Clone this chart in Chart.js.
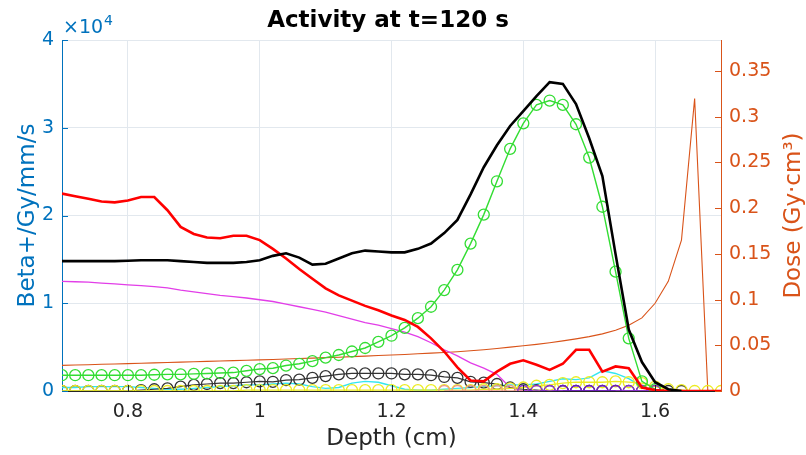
<!DOCTYPE html>
<html>
<head>
  <title>Activity at t=120 s</title>
  <script src="https://cdn.jsdelivr.net/npm/chart.js"></script>
  <style>
    body { margin: 0; background: #fff; }
    #wrap { width: 806px; height: 455px; }
  </style>
</head>
<body>
<div id="wrap"><canvas id="activity_chart" width="806" height="455"></canvas></div>
<script>
  var _ = null;

  // depth grid (cm)
  var depth = [0.70, 0.72, 0.74, 0.76, 0.78, 0.80, 0.82, 0.84, 0.86, 0.88,
               0.90, 0.92, 0.94, 0.96, 0.98, 1.00, 1.02, 1.04, 1.06, 1.08,
               1.10, 1.12, 1.14, 1.16, 1.18, 1.20, 1.22, 1.24, 1.26, 1.28,
               1.30, 1.32, 1.34, 1.36, 1.38, 1.40, 1.42, 1.44, 1.46, 1.48,
               1.50, 1.52, 1.54, 1.56, 1.58, 1.60, 1.62, 1.64, 1.66, 1.68, 1.70];

  // activity series (Beta+/Gy/mm/s)
  var totalActivity = [14800, 14800, 14800, 14800, 14800, 14850, 14900, 14900, 14900, 14800,
                       14700, 14600, 14600, 14600, 14700, 14900, 15400, 15700, 15200, 14400,
                       14500, 15100, 15700, 16000, 15900, 15800, 15800, 16200, 16800, 18000,
                       19500, 22400, 25500, 28000, 30200, 31900, 33600, 35200, 35000, 32700,
                       28800, 24500, 15600, 7000, 3300, 1000, 200, 0, _, _, _];
  var redActivity = [22500, 22200, 21900, 21600, 21500, 21700, 22100, 22100, 20600, 18700,
                     17900, 17500, 17400, 17700, 17700, 17200, 16200, 15100, 13900, 12800,
                     11700, 10900, 10300, 9700, 9200, 8600, 8100, 7300, 6000, 4500,
                     2700, 1200, 1100, 2200, 3100, 3500, 3000, 2400, 3100, 4700,
                     4700, 2200, 2800, 2600, 400, 100, 0, 0, 0, 0, 0];
  var greenActivity = [1800, 1800, 1800, 1800, 1800, 1800, 1800, 1850, 1900, 1900,
                       1950, 2000, 2050, 2100, 2300, 2500, 2600, 2900, 3100, 3400,
                       3800, 4100, 4500, 4900, 5600, 6300, 7200, 8300, 9600, 11500,
                       13800, 16800, 20100, 23900, 27600, 30500, 32600, 33100, 32600, 30400,
                       26600, 21000, 13600, 6000, 1100, 200, _, _, _, _, _];
  var blackMarkerActivity = [0, 0, 0, 0, 0, 0, 100, 200, 300, 500,
                             700, 800, 900, 900, 1000, 1100, 1050, 1250, 1300, 1500,
                             1700, 1900, 2000, 2000, 2000, 2000, 1900, 1900, 1800, 1600,
                             1500, 1050, 950, 800, 400, 200, 100, 0, 0, 0,
                             0, 0, 0, 0, 0, 0, 0, 0, _, _, _];
  var magentaActivity = [12500, 12450, 12400, 12300, 12200, 12100, 12000, 11900, 11750, 11500,
                         11300, 11100, 10900, 10750, 10600, 10400, 10200, 9900, 9600, 9300,
                         9000, 8600, 8200, 7800, 7500, 7100, 6700, 6200, 5500, 4700,
                         4000, 3200, 2600, 1900, 400, 0, 0, 0, 0, 0,
                         0, 0, 0, 0, 0, 0, _, _, _, _, _];
  var cyanActivity = [400, 400, 500, 500, 500, 500, 400, 300, 200, 200,
                      300, 400, 500, 600, 700, 700, 800, 900, 800, 500,
                      300, 400, 900, 1100, 1000, 600, 200, 100, 100, 200,
                      300, 400, 500, 600, 700, 700, 800, 1100, 1400, 1300,
                      1500, 2300, 2000, 1400, 500, 100, 0, _, _, _, _];
  var yellowActivity = [0, 0, 0, 0, 0, 0, 0, 0, 0, 0,
                        0, 0, 0, 0, 100, 100, 100, 100, 100, 100,
                        100, 100, 100, 100, 100, 100, 100, 100, 100, 100,
                        100, 100, 200, 200, 300, 400, 600, 700, 900, 1000,
                        1000, 1000, 1100, 1000, 900, 500, 200, 100, 0, 0, 0];
  var purpleActivity = [_, _, _, _, _, _, _, _, _, _,
                        _, _, _, _, _, _, _, _, _, _,
                        _, _, _, _, _, _, _, _, _, _,
                        _, _, _, _, _, 0, 0, 0, 0, 0,
                        0, 0, 0, 0, 0, 0, _, _, _, _, _];
  var darkPurpleActivity = [_, _, _, _, _, _, _, _, _, _,
                            _, _, _, _, _, _, _, _, _, _,
                            _, _, _, _, _, _, _, _, _, _,
                            _, _, _, _, _, _, _, _, 0, 0,
                            0, 0, 0, _, _, _, _, _, _, _, _];
  var salmonActivity = [_, _, _, _, _, _, _, _, _, _,
                        _, _, _, _, _, _, _, _, _, _,
                        _, _, _, _, _, _, _, _, _, 0,
                        0, 0, 0, 0, 0, 0, _, _, _, _,
                        _, _, _, _, _, _, _, _, _, _, _];

  // dose (Gy·cm³), right axis
  var dose = [0.0280, 0.0284, 0.0288, 0.0292, 0.0296, 0.0300, 0.0304, 0.0308, 0.0312, 0.0316,
              0.0320, 0.0324, 0.0328, 0.0332, 0.0336, 0.0340, 0.0345, 0.0350, 0.0355, 0.0360,
              0.0365, 0.0370, 0.0376, 0.0382, 0.0388, 0.0394, 0.0400, 0.0407, 0.0414, 0.0422,
              0.0430, 0.0440, 0.0452, 0.0465, 0.0480, 0.0495, 0.0510, 0.0528, 0.0548, 0.0570,
              0.0595, 0.0625, 0.0665, 0.0720, 0.0800, 0.0960, 0.1200, 0.1650, 0.3200, 0.0, 0.0];

  var xTicks = [0.8, 1.0, 1.2, 1.4, 1.6];
  var leftTicks = [0, 10000, 20000, 30000, 40000];
  var rightTicks = [0, 0.05, 0.1, 0.15, 0.2, 0.25, 0.3, 0.35];

  var FONT = 'DejaVu Sans';
  var BLUE = '#0072BD';
  var ORANGE = '#D95319';
  var gridColor = '#e2e8ee';

  function pts(arr) {
    return depth.map(function (d, i) { return { x: d, y: arr[i] }; });
  }

  function series(arr, color, width, markers, axis) {
    return {
      data: pts(arr),
      borderColor: color,
      borderWidth: width,
      yAxisID: axis || 'y',
      pointRadius: markers ? 5.5 : 0,
      pointStyle: 'circle',
      pointBorderColor: color,
      pointBackgroundColor: 'rgba(0,0,0,0)',
      pointBorderWidth: 1.3,
      tension: 0,
      fill: false,
      spanGaps: false
    };
  }

  // title, exponent, right axis label and inward tick marks
  var decorations = {
    id: 'decorations',
    afterDraw: function (chart) {
      var ctx = chart.ctx, a = chart.chartArea;
      var sx = chart.scales.x, sy = chart.scales.y, sy2 = chart.scales.y2;
      ctx.save();
      ctx.lineWidth = 1;
      ctx.strokeStyle = '#262626';
      xTicks.forEach(function (v) {
        var px = Math.round(sx.getPixelForValue(v)) + 0.5;
        ctx.beginPath(); ctx.moveTo(px, a.bottom); ctx.lineTo(px, a.bottom - 6); ctx.stroke();
      });
      ctx.strokeStyle = BLUE;
      leftTicks.forEach(function (v) {
        var py = Math.round(sy.getPixelForValue(v)) + 0.5;
        ctx.beginPath(); ctx.moveTo(a.left, py); ctx.lineTo(a.left + 6, py); ctx.stroke();
      });
      ctx.strokeStyle = ORANGE;
      rightTicks.forEach(function (v) {
        var py = Math.round(sy2.getPixelForValue(v)) + 0.5;
        ctx.beginPath(); ctx.moveTo(a.right, py); ctx.lineTo(a.right - 6, py); ctx.stroke();
      });

      ctx.fillStyle = '#000';
      ctx.font = 'bold 23px "' + FONT + '"';
      ctx.textAlign = 'center';
      ctx.textBaseline = 'middle';
      ctx.fillText('Activity at t=120 s', 388, 21);

      ctx.fillStyle = BLUE;
      ctx.textAlign = 'left';
      ctx.textBaseline = 'alphabetic';
      ctx.font = '19px "' + FONT + '"';
      ctx.fillText('\u00d710', 63, 33);
      var w = ctx.measureText('\u00d710').width;
      ctx.font = '14px "' + FONT + '"';
      ctx.fillText('4', 63 + w + 1, 25);

      ctx.fillStyle = ORANGE;
      ctx.font = '23px "' + FONT + '"';
      ctx.textAlign = 'center';
      ctx.textBaseline = 'middle';
      ctx.translate(794, (a.top + a.bottom) / 2);
      ctx.rotate(-Math.PI / 2);
      ctx.fillText('Dose (Gy\u00b7cm\u00b3)', 0, 0);
      ctx.restore();
    }
  };

  var fmt = function (v) { return String(+(+v).toFixed(2)); };

  // first dataset is drawn on top
  var ctx = document.getElementById('activity_chart').getContext('2d');
  var activityChart = new Chart(ctx, {
    type: 'line',
    data: {
      datasets: [
        series(totalActivity, '#000000', 2.6, false),
        series(redActivity, '#ff0000', 2.6, false),
        series(greenActivity, '#33dd33', 1.4, true),
        series(darkPurpleActivity, '#6a1fb8', 1.6, true),
        series(purpleActivity, '#8b2fd6', 1.3, true),
        series(salmonActivity, '#ec9a8a', 1.3, true),
        series(yellowActivity, '#ecec22', 1.3, true),
        series(blackMarkerActivity, '#333333', 1.2, true),
        series(cyanActivity, '#33e6f0', 1.4, false),
        series(magentaActivity, '#e23ee8', 1.3, false),
        series(dose, ORANGE, 1.1, false, 'y2')
      ]
    },
    options: {
      responsive: false,
      animation: false,
      layout: { padding: { top: 40, left: 0, right: 0, bottom: 0 } },
      plugins: {
        legend: { display: false },
        tooltip: { enabled: false },
        title: { display: false }
      },
      scales: {
        x: {
          type: 'linear',
          min: 0.7,
          max: 1.7,
          afterBuildTicks: function (s) { s.ticks = xTicks.map(function (v) { return { value: v }; }); },
          afterFit: function (s) { s.height = 64; },
          grid: { color: gridColor, drawTicks: false },
          border: { color: '#262626', width: 1 },
          ticks: { color: '#262626', font: { family: FONT, size: 19 }, padding: 10, maxRotation: 0, callback: fmt },
          title: { display: true, text: 'Depth (cm)', color: '#262626', font: { family: FONT, size: 23 }, padding: { top: 0, bottom: 2 } }
        },
        y: {
          position: 'left',
          min: 0,
          max: 40000,
          afterBuildTicks: function (s) { s.ticks = leftTicks.map(function (v) { return { value: v }; }); },
          afterFit: function (s) { s.width = 62; },
          grid: { color: gridColor, drawTicks: false },
          border: { color: BLUE, width: 1 },
          ticks: { color: BLUE, font: { family: FONT, size: 19 }, padding: 8, callback: function (v) { return String(v / 10000); } },
          title: { display: true, text: 'Beta+/Gy/mm/s', color: BLUE, font: { family: FONT, size: 23 }, padding: { top: 14, bottom: 0 } }
        },
        y2: {
          position: 'right',
          min: 0,
          max: 0.384,
          afterBuildTicks: function (s) { s.ticks = rightTicks.map(function (v) { return { value: v }; }); },
          afterFit: function (s) { s.width = 85; },
          grid: { display: false, drawTicks: false },
          border: { color: ORANGE, width: 1 },
          ticks: { color: ORANGE, font: { family: FONT, size: 19 }, padding: 8, callback: fmt }
        }
      }
    },
    plugins: [decorations]
  });
</script>
</body>
</html>
